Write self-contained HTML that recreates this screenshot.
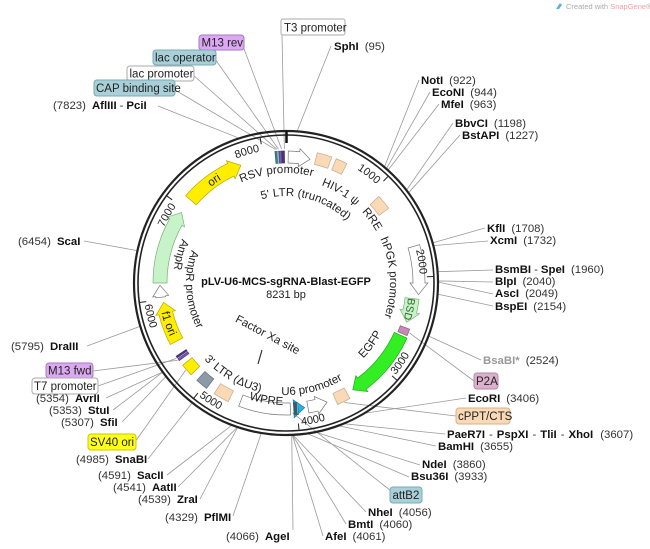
<!DOCTYPE html>
<html><head><meta charset="utf-8"><style>
html,body{margin:0;padding:0;background:#fff;}
svg{display:block;font-family:"Liberation Sans",sans-serif;font-size:11px;}
.b{font-weight:bold;fill:#111;}
.n{fill:#333;}
.t{fill:#222;}
</style></head><body>
<svg id="s" width="650" height="549" viewBox="0 0 650 549" xmlns="http://www.w3.org/2000/svg">
<g id="lines" stroke="#9a9a9a" stroke-width="0.8" fill="none"></g>
<circle cx="286" cy="283" r="152" fill="none" stroke="#222" stroke-width="2.2"/>
<circle cx="286" cy="283" r="148" fill="none" stroke="#222" stroke-width="1.6"/>
<line x1="286.5" y1="131" x2="286.5" y2="143" stroke="#111" stroke-width="2.5"/>
<g id="ticks" stroke="#222" stroke-width="1"></g>
<g id="feat" stroke="#666" stroke-width="0.7"></g>
<defs id="defs"></defs>

<g class="t" font-size="11">
<text><textPath href="#tk1000" startOffset="100%" text-anchor="end">1000</textPath></text>
<text><textPath href="#tk2000" startOffset="100%" text-anchor="end">2000</textPath></text>
<text><textPath href="#tk3000">3000</textPath></text>
<text><textPath href="#tk4000">4000</textPath></text>
<text><textPath href="#tk5000">5000</textPath></text>
<text><textPath href="#tk6000">6000</textPath></text>
<text><textPath href="#tk7000" startOffset="100%" text-anchor="end">7000</textPath></text>
<text><textPath href="#tk8000" startOffset="100%" text-anchor="end">8000</textPath></text>
</g>

<g class="t" font-size="11.5">
<text><textPath href="#pRSV" startOffset="50%" text-anchor="middle">RSV promoter</textPath></text>
<text><textPath href="#pLTR" startOffset="50%" text-anchor="middle">5' LTR (truncated)</textPath></text>
<text><textPath href="#pHIV" startOffset="50%" text-anchor="middle">HIV-1 ψ</textPath></text>
<text><textPath href="#pRRE" startOffset="50%" text-anchor="middle">RRE</textPath></text>
<text><textPath href="#pPGK" startOffset="50%" text-anchor="middle">hPGK promoter</textPath></text>
<text><textPath href="#pEGFP" startOffset="50%" text-anchor="middle">EGFP</textPath></text>
<text><textPath href="#pU6" startOffset="50%" text-anchor="middle">U6 promoter</textPath></text>
<text><textPath href="#p3LTR" startOffset="50%" text-anchor="middle">3' LTR (ΔU3)</textPath></text>
<text><textPath href="#pAmpR" startOffset="50%" text-anchor="middle">AmpR</textPath></text>
<text><textPath href="#pAmpP" startOffset="50%" text-anchor="middle">AmpR promoter</textPath></text>
<text font-size="10.5"><textPath href="#pBSD" startOffset="50%" text-anchor="middle" fill="#2a6a2a">BSD</textPath></text>
<text><textPath href="#pWPRE" startOffset="50%" text-anchor="middle">WPRE</textPath></text>
<text><textPath href="#pori" startOffset="50%" text-anchor="middle">ori</textPath></text>
<text><textPath href="#pf1" startOffset="50%" text-anchor="middle">f1 ori</textPath></text>
<text transform="translate(266,338) rotate(28)" text-anchor="middle">Factor Xa site</text>
</g>
<line x1="258" y1="364" x2="262" y2="350" stroke="#333" stroke-width="1.2"/>

<text x="286" y="285" text-anchor="middle" font-weight="bold" font-size="11" fill="#111">pLV-U6-MCS-sgRNA-Blast-EGFP</text>
<text x="286" y="298" text-anchor="middle" font-size="11" fill="#222">8231 bp</text>

<g font-size="11.5">
<rect x="281" y="19" width="64" height="16" rx="2" fill="#fff" stroke="#aaa"/><text x="284" y="31.5" class="t">T3 promoter</text>
<rect x="199" y="35" width="45" height="15" rx="3" fill="#dca8f2" stroke="#a27cc0"/><text x="201.5" y="46.5" class="t">M13 rev</text>
<rect x="153" y="50" width="63" height="15" rx="3" fill="#a9d0d9" stroke="#7aa8b4"/><text x="155" y="61.5" class="t">lac operator</text>
<rect x="127" y="66" width="67" height="15" rx="3" fill="#fff" stroke="#aaa"/><text x="129.5" y="77.5" class="t">lac promoter</text>
<rect x="94" y="80" width="81" height="16" rx="3" fill="#a9d0d9" stroke="#7aa8b4"/><text x="96" y="92" class="t">CAP binding site</text>
<rect x="474" y="373" width="24" height="16" rx="3" fill="#dcb0cc" stroke="#b08aa0"/><text x="476" y="385" class="t">P2A</text>
<rect x="456" y="408" width="54" height="16" rx="3" fill="#fad9b6" stroke="#d6b08a"/><text x="458" y="420" class="t">cPPT/CTS</text>
<rect x="390" y="487" width="32" height="16" rx="3" fill="#a9d0d9" stroke="#7aa8b4"/><text x="392.5" y="499" class="t">attB2</text>
<rect x="46" y="363" width="47" height="15" rx="3" fill="#dca8f2" stroke="#a27cc0"/><text x="48" y="374.5" class="t">M13 fwd</text>
<rect x="32" y="378" width="66" height="16" rx="3" fill="#fff" stroke="#aaa"/><text x="34" y="390" class="t">T7 promoter</text>
<rect x="88" y="434" width="48" height="16" rx="3" fill="#ffff1a" stroke="#c8c800"/><text x="90" y="446" class="t">SV40 ori</text>
</g>

<g font-size="11.4">
<text x="334" y="50"><tspan class="b">SphI</tspan><tspan class="n" dx="6">(95)</tspan></text>
<text x="53" y="109"><tspan class="n">(7823)</tspan><tspan class="b" dx="6">AflIII</tspan><tspan class="n" dx="3">-</tspan><tspan class="b" dx="3">PciI</tspan></text>
<text x="421" y="84"><tspan class="b">NotI</tspan><tspan class="n" dx="6">(922)</tspan></text>
<text x="432" y="96"><tspan class="b">EcoNI</tspan><tspan class="n" dx="6">(944)</tspan></text>
<text x="441" y="108"><tspan class="b">MfeI</tspan><tspan class="n" dx="6">(963)</tspan></text>
<text x="455" y="127"><tspan class="b">BbvCI</tspan><tspan class="n" dx="6">(1198)</tspan></text>
<text x="462" y="139"><tspan class="b">BstAPI</tspan><tspan class="n" dx="6">(1227)</tspan></text>
<text x="487" y="232"><tspan class="b">KflI</tspan><tspan class="n" dx="6">(1708)</tspan></text>
<text x="490" y="244"><tspan class="b">XcmI</tspan><tspan class="n" dx="6">(1732)</tspan></text>
<text x="495" y="273"><tspan class="b">BsmBI</tspan><tspan class="n" dx="3">-</tspan><tspan class="b" dx="3">SpeI</tspan><tspan class="n" dx="6">(1960)</tspan></text>
<text x="495" y="285"><tspan class="b">BlpI</tspan><tspan class="n" dx="6">(2040)</tspan></text>
<text x="495" y="297"><tspan class="b">AscI</tspan><tspan class="n" dx="6">(2049)</tspan></text>
<text x="495" y="310"><tspan class="b">BspEI</tspan><tspan class="n" dx="6">(2154)</tspan></text>
<text x="483" y="364"><tspan font-weight="bold" fill="#999">BsaBI*</tspan><tspan class="n" dx="6">(2524)</tspan></text>
<text x="468" y="402"><tspan class="b">EcoRI</tspan><tspan class="n" dx="6">(3406)</tspan></text>
<text x="447" y="438"><tspan class="b">PaeR7I</tspan><tspan class="n" dx="4">-</tspan><tspan class="b" dx="4">PspXI</tspan><tspan class="n" dx="4">-</tspan><tspan class="b" dx="4">TliI</tspan><tspan class="n" dx="4">-</tspan><tspan class="b" dx="4">XhoI</tspan><tspan class="n" dx="7">(3607)</tspan></text>
<text x="438" y="450"><tspan class="b">BamHI</tspan><tspan class="n" dx="6">(3655)</tspan></text>
<text x="422" y="468"><tspan class="b">NdeI</tspan><tspan class="n" dx="6">(3860)</tspan></text>
<text x="411" y="480"><tspan class="b">Bsu36I</tspan><tspan class="n" dx="6">(3933)</tspan></text>
<text x="368" y="516"><tspan class="b">NheI</tspan><tspan class="n" dx="6">(4056)</tspan></text>
<text x="348" y="528"><tspan class="b">BmtI</tspan><tspan class="n" dx="6">(4060)</tspan></text>
<text x="325" y="540"><tspan class="b">AfeI</tspan><tspan class="n" dx="6">(4061)</tspan></text>
<text x="226" y="540"><tspan class="n">(4066)</tspan><tspan class="b" dx="6">AgeI</tspan></text>
<text x="18" y="245"><tspan class="n">(6454)</tspan><tspan class="b" dx="6">ScaI</tspan></text>
<text x="11" y="350"><tspan class="n">(5795)</tspan><tspan class="b" dx="6">DraIII</tspan></text>
<text x="36" y="402"><tspan class="n">(5354)</tspan><tspan class="b" dx="6">AvrII</tspan></text>
<text x="49" y="414"><tspan class="n">(5353)</tspan><tspan class="b" dx="6">StuI</tspan></text>
<text x="61" y="426"><tspan class="n">(5307)</tspan><tspan class="b" dx="6">SfiI</tspan></text>
<text x="76" y="463"><tspan class="n">(4985)</tspan><tspan class="b" dx="6">SnaBI</tspan></text>
<text x="98" y="479"><tspan class="n">(4591)</tspan><tspan class="b" dx="6">SacII</tspan></text>
<text x="113" y="491"><tspan class="n">(4541)</tspan><tspan class="b" dx="6">AatII</tspan></text>
<text x="138" y="503"><tspan class="n">(4539)</tspan><tspan class="b" dx="6">ZraI</tspan></text>
<text x="165" y="521"><tspan class="n">(4329)</tspan><tspan class="b" dx="6">PflMI</tspan></text>
</g>

<text x="566" y="9" font-size="7.5" fill="#aaa">Created with <tspan fill="#f3a0a0">SnapGene</tspan>®</text>
<path d="M556 9 L560 3 L562 5 L559 9 Z" fill="#5ab0e0"/>

<script>
(function(){
var CX=286,CY=283,N=8231,NS="http://www.w3.org/2000/svg";
function P(r,a){var t=a*Math.PI/180;return [CX+r*Math.sin(t),CY-r*Math.cos(t)];}
function A(bp){return bp/N*360;}
function arc(r,a1,a2){
  var p1=P(r,a1),p2=P(r,a2),large=Math.abs(a2-a1)>180?1:0,sw=a2>a1?1:0;
  return "M"+p1[0].toFixed(2)+" "+p1[1].toFixed(2)+" A"+r+" "+r+" 0 "+large+" "+sw+" "+p2[0].toFixed(2)+" "+p2[1].toFixed(2);
}
function el(tag,attrs,parent){var e=document.createElementNS(NS,tag);for(var k in attrs)e.setAttribute(k,attrs[k]);parent.appendChild(e);return e;}
var defs=document.getElementById("defs");
function dp(id,d){el("path",{id:id,d:d,fill:"none"},defs);}
var tk=document.getElementById("ticks");
for(var k=1;k<=8;k++){var a=A(k*1000),p1=P(148,a),p2=P(141,a);
  el("line",{x1:p1[0],y1:p1[1],x2:p2[0],y2:p2[1]},tk);
  var cw=(a<=90||a>=270);
  if(cw) dp("tk"+k*1000,arc(134,a-40,a-1.2)); else dp("tk"+k*1000,arc(143,a-1.2,a-40));
}
var F=document.getElementById("feat"),R=126,W=7;
function band(a1,a2,fill,head,r,w,stroke){r=r||R;w=w||W;
  var d,o1=P(r+w,a1),i1=P(r-w,a1),o2,i2,tip;
  var dir=head||0,h=5;
  if(dir===1){var ab=a2-h;o2=P(r+w,ab);i2=P(r-w,ab);tip=P(r,a2);
    var O=P(r+w+3,ab),I=P(r-w-3,ab);
    d="M"+o1+" A"+(r+w)+" "+(r+w)+" 0 0 1 "+o2+" L"+O+" L"+tip+" L"+I+" L"+i2+" A"+(r-w)+" "+(r-w)+" 0 0 0 "+i1+" Z";}
  else if(dir===-1){var ab=a1+h;o1=P(r+w,ab);i1=P(r-w,ab);tip=P(r,a1);o2=P(r+w,a2);i2=P(r-w,a2);
    var O=P(r+w+3,ab),I=P(r-w-3,ab);
    d="M"+tip+" L"+O+" L"+o1+" A"+(r+w)+" "+(r+w)+" 0 0 1 "+o2+" L"+i2+" A"+(r-w)+" "+(r-w)+" 0 0 0 "+i1+" L"+I+" Z";}
  else {o2=P(r+w,a2);i2=P(r-w,a2);
    d="M"+o1+" A"+(r+w)+" "+(r+w)+" 0 0 1 "+o2+" L"+i2+" A"+(r-w)+" "+(r-w)+" 0 0 0 "+i1+" Z";}
  el("path",{d:d,fill:fill,stroke:stroke||"#777"},F);
}
band(-4.8,-3.9,"#3f7f8a",0,126,6,"#2f5f6a");
band(-3.9,-3.2,"#9fd0d8",0,126,6,"#5a8f9a");
band(-3.0,-1.9,"#7a5aa8",0,126,6,"#5a3a88");
band(-1.7,-0.7,"#4a3a7a",0,126,6,"#3a2a6a");
band(1,11,"#fff",1,126,6);
band(13.5,20,"#fad9b6",0,128,6,"#c8a888");
band(22,27,"#fad9b6",0,128,6,"#c8a888");
band(47,54,"#fad9b6",0,121,6,"#c8a888");
band(74,95,"#fff",1,133,6);
band(97,108,"#c8f2c8",1,127,7,"#7ab07a");
band(110.5,113.5,"#c48cb4",0,127,5,"#8a5a7a");
band(114.5,148,"#33ee22",1,126,7,"#22aa22");
band(151,157,"#fad9b6",0,126,6,"#c8a888");
band(161,170,"#fff",-1,126,6);
band(171.5,174.5,"#22b4ea",-1,126,6,"#1a7aa0");
band(175,176.5,"#2f5f6a",0,126,6,"#2f5f6a");
band(178,201,"#fff",0,126,6);
band(206,213,"#fad9b6",0,126,6,"#c8a888");
band(217,222.5,"#8c99a6",0,126,6,"#66737f");
band(226,231.5,"#ffee00",0,126,6,"#b8a800");
band(234,235,"#7a5aa8",0,126,6,"#5a3a88");
band(235.5,236.3,"#4a3a7a",0,126,6,"#3a2a6a");
band(242,261,"#ffee00",1,124,7,"#b8a800");
band(263.5,269,"#fff",1,126,5);
band(270,304,"#c8f2c8",1,126,7,"#7ab07a");
band(311,339,"#ffee00",1,126,7,"#b8a800");
dp("pRSV",arc(110,-45,35));
dp("pLTR",arc(87,-26,54));
dp("pHIV",arc(104,8,54));
dp("pRRE",arc(104,30,77));
dp("pPGK",arc(104,50,124));
dp("pEGFP",arc(108,160,92));
dp("pU6",arc(112,206,126));
dp("p3LTR",arc(112,250,170));
dp("pAmpR",arc(113,318,252));
dp("pAmpP",arc(100,308,224));
dp("pBSD",arc(123,82,122));
dp("pWPRE",arc(122,215,164));
dp("pori",arc(122,305,345));
dp("pf1",arc(128,277,225));
var L=document.getElementById("lines");
function ln(a,r,x,y,kx,ky){var p=P(r,a);var pts=p[0]+","+p[1]+" "+(kx!==undefined?kx+","+ky+" ":"")+x+","+y;el("polyline",{points:pts},L);}
function bp(b,x,y){ln(A(b),152,x,y);}
ln(-0.7,134,282,35,282,35);ln(-1.9,134,243,46);ln(-3.2,134,215,59);ln(-3.9,134,193,75);ln(-4.5,134,175,90);
bp(95,331,46);bp(7823,158,106);
bp(922,419,80);bp(944,430,92);bp(963,439,104);bp(1198,453,123);bp(1227,460,135);
bp(1708,485,228);bp(1732,488,241);bp(1960,493,270);bp(2040,493,282);bp(2049,493,294);bp(2154,493,306);
bp(2524,481,360);ln(112,133,474,381);bp(3406,466,398);ln(154,133,456,416);
bp(3607,445,434);bp(3655,436,446);bp(3860,420,465);bp(3933,409,477);
ln(A(4050),130,391,491);bp(4056,366,512);bp(4060,346,524);bp(4061,323,536);
bp(4066,293,530);
bp(6454,84,241);bp(5795,87,346);ln(234.5,133,93,371);ln(235.5,133,98,386);
bp(5354,106,398);bp(5353,113,410);bp(5307,122,422);ln(229,133,135,442);
bp(4985,148,459);bp(4591,167,475);bp(4541,178,487);bp(4539,200,499);bp(4329,233,516);
})();
</script>
</svg>
</body></html>
